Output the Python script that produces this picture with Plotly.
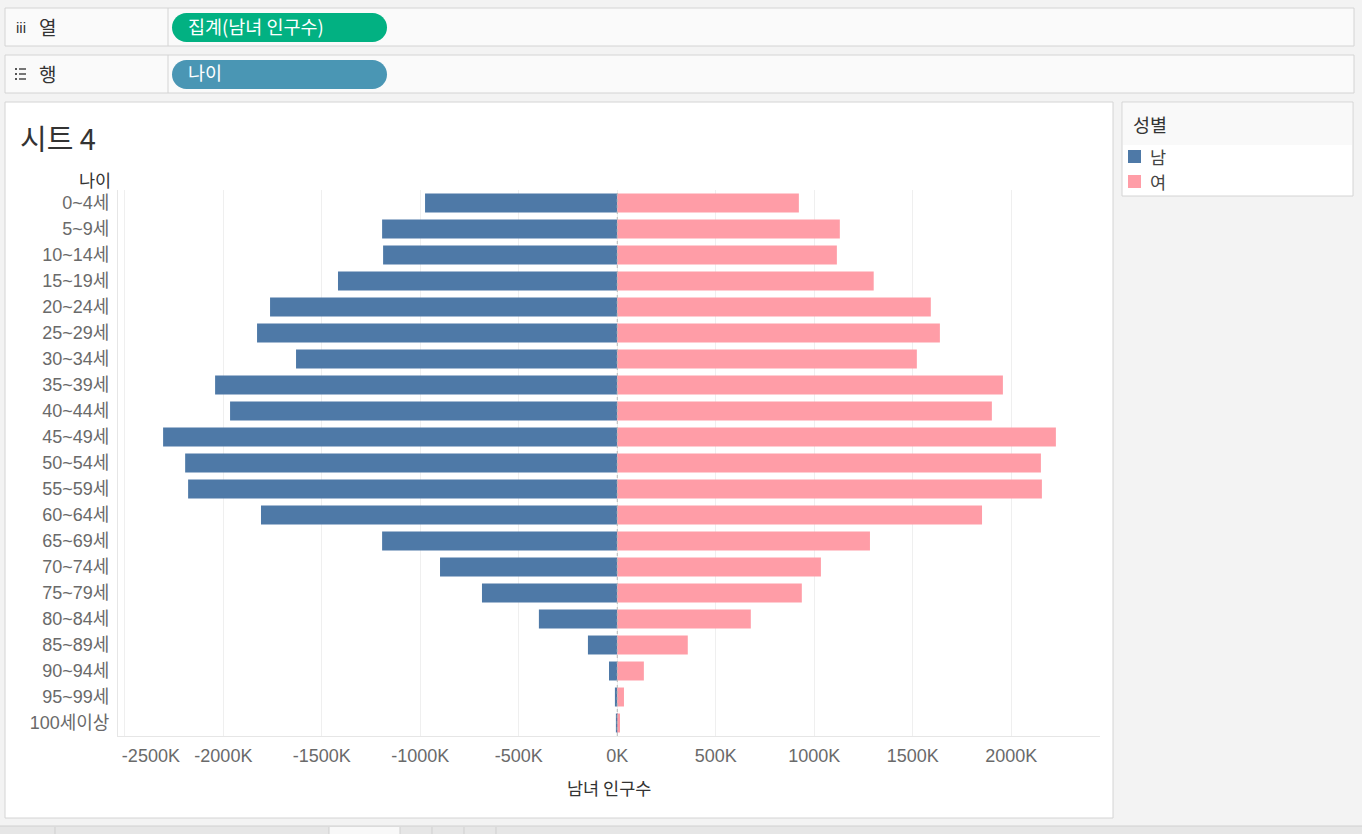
import plotly.graph_objects as go

# ---------------- data ----------------
age_groups = ["0~4세", "5~9세", "10~14세", "15~19세", "20~24세", "25~29세", "30~34세",
              "35~39세", "40~44세", "45~49세", "50~54세", "55~59세", "60~64세", "65~69세",
              "70~74세", "75~79세", "80~84세", "85~89세", "90~94세", "95~99세", "100세이상"]
# population in thousands (K)
male_k = [976, 1194, 1189, 1418, 1763, 1829, 1631, 2042, 1966, 2306, 2194,
          2179, 1809, 1194, 900, 687, 398, 149, 42, 12, 7]
female_k = [922, 1130, 1115, 1302, 1592, 1638, 1521, 1958, 1902, 2227, 2151,
            2156, 1852, 1283, 1034, 937, 678, 358, 135, 34, 14]
tick_vals = [-2500, -2000, -1500, -1000, -500, 0, 500, 1000, 1500, 2000]
tick_text = ["-2500K", "-2000K", "-1500K", "-1000K", "-500K", "0K", "500K", "1000K", "1500K", "2000K"]
x_range = [-2535, 2451]

W, H = 1362, 834
MALE_C = "#4e79a7"
FEMALE_C = "#ff9da7"
KFONT = "Noto Sans CJK KR"
NFONT = "Liberation Sans, Noto Sans CJK KR"


def px(x):
    return x / W


def py(y):
    return 1 - y / H


fig = go.Figure()
fig.add_trace(go.Bar(y=age_groups, x=[-v for v in male_k], name="남", orientation="h",
                     marker=dict(color=MALE_C, line=dict(width=0)), width=0.73,
                     hoverinfo="skip", showlegend=False))
fig.add_trace(go.Bar(y=age_groups, x=female_k, name="여", orientation="h",
                     marker=dict(color=FEMALE_C, line=dict(width=0)), width=0.73,
                     hoverinfo="skip", showlegend=False))

shapes = []
annotations = []


def rect(x0, y0, x1, y1, fill, line="#d4d4d4", lw=1, layer="below"):
    shapes.append(dict(type="rect", xref="paper", yref="paper",
                       x0=px(x0), x1=px(x1), y0=py(y1), y1=py(y0),
                       fillcolor=fill, line=dict(color=line, width=lw), layer=layer))


def line(x0, y0, x1, y1, color="#d4d4d4", lw=1, layer="below"):
    shapes.append(dict(type="line", xref="paper", yref="paper",
                       x0=px(x0), x1=px(x1), y0=py(y0), y1=py(y1),
                       line=dict(color=color, width=lw), layer=layer))


def pill(L, T, R, B, fill):
    r = (B - T) / 2
    k = 0.5523 * r
    mid = (T + B) / 2
    pts = [("M", [(L + r, T)]), ("L", [(R - r, T)]),
           ("C", [(R - r + k, T), (R, mid - k), (R, mid)]),
           ("C", [(R, mid + k), (R - r + k, B), (R - r, B)]),
           ("L", [(L + r, B)]),
           ("C", [(L + r - k, B), (L, mid + k), (L, mid)]),
           ("C", [(L, mid - k), (L + r - k, T), (L + r, T)])]
    path = ""
    for cmd, ps in pts:
        path += cmd + " " + " ".join(f"{px(a):.6f},{py(b):.6f}" for a, b in ps) + " "
    path += "Z"
    shapes.append(dict(type="path", xref="paper", yref="paper", path=path,
                       fillcolor=fill, line=dict(width=0), layer="below"))


def text(x, y, s, size=16, color="#333333", xanchor="left", family=KFONT):
    annotations.append(dict(x=px(x), y=py(y), xref="paper", yref="paper", text=s,
                            showarrow=False, xanchor=xanchor, yanchor="middle",
                            font=dict(family=family, size=size, color=color)))


# shelves
rect(5, 8, 1354, 46, "#fafafa")
line(168, 8, 168, 46)
rect(5, 55, 1354, 93, "#fafafa")
line(168, 55, 168, 93)
pill(172, 13, 387, 42, "#02b182")
pill(172, 60, 387, 89, "#4a96b4")
text(14, 27, "iii", 15, "#333333", family=NFONT)
text(37, 26, "열", 19, "#333333")
# list icon for rows shelf
for yy in (69, 74, 79):
    rect(15, yy - 1, 17, yy + 1, "#555555", line="#555555", lw=0)
    line(19, yy, 26, yy, "#555555", 1.6)
text(37, 73, "행", 19, "#333333")
text(186, 26, "집계(남녀 인구수)", 18.5, "#ffffff")
text(186, 72, "나이", 18.5, "#ffffff")

# sheet pane
rect(5, 102, 1113, 818, "#ffffff")
text(18, 137, "시트 4", 29, "#333333")
text(113, 179, "나이", 17.5, "#333333", xanchor="right")
text(609, 787, "남녀 인구수", 17.5, "#333333", xanchor="center")

# legend
rect(1122, 102, 1353, 196, "#ffffff")
rect(1123, 103, 1352, 145, "#f9f9f9", line="#f9f9f9", lw=0)
text(1131, 124, "성별", 18.5, "#333333")
rect(1128, 150, 1141, 163, MALE_C, line=MALE_C, lw=0)
rect(1128, 175, 1141, 188, FEMALE_C, line=FEMALE_C, lw=0)
text(1148, 157, "남", 17.5, "#444444")
text(1148, 182, "여", 17.5, "#444444")

# bottom tab bar
rect(-1, 826, 1363, 835, "#e6e6e6", line="#d0d0d0")
rect(329, 827, 400, 835, "#f8f8f8", line="#f8f8f8", lw=0)
for xx in (55, 329, 400, 432, 464, 496):
    line(xx, 827, xx, 834, "#cfcfcf")

# dashed zero line
shapes.append(dict(type="line", xref="x", yref="paper", x0=0, x1=0,
                   y0=py(736), y1=py(190), line=dict(color="#b8b8b8", width=1, dash="dot"),
                   layer="above"))

main_ticktext = ["" if v == -2500 else t for v, t in zip(tick_vals, tick_text)]
tfont = dict(family=NFONT, size=18, color="#6a6a6a")

fig.update_layout(
    width=W, height=H,
    margin=dict(l=0, r=0, t=0, b=0),
    paper_bgcolor="#f3f3f3",
    plot_bgcolor="rgba(0,0,0,0)",
    barmode="overlay",
    showlegend=False,
    shapes=shapes,
    annotations=annotations,
    xaxis=dict(domain=[px(118), px(1100)], range=x_range, tickvals=tick_vals,
               ticktext=main_ticktext, showgrid=True, gridcolor="#efefef", gridwidth=1,
               zeroline=False, showline=True, linecolor="#e6e6e6", linewidth=1,
               ticks="outside", ticklen=3, tickcolor="rgba(0,0,0,0)",
               tickfont=tfont, fixedrange=True),
    xaxis2=dict(overlaying="x", anchor="y", side="bottom", range=x_range,
                tickvals=[tick_vals[0]], ticktext=[tick_text[0]], ticklabelshift=26,
                showgrid=False, zeroline=False, showline=False,
                ticks="outside", ticklen=3, tickcolor="rgba(0,0,0,0)",
                tickfont=tfont, fixedrange=True),
    yaxis=dict(domain=[py(736), py(190)], categoryorder="array", categoryarray=age_groups,
               range=[len(age_groups) - 0.5, -0.5], showgrid=False, zeroline=False,
               showline=True, linecolor="#e6e6e6", linewidth=1, ticks="outside", ticklen=4,
               tickcolor="rgba(0,0,0,0)", tickfont=tfont, fixedrange=True),
)
# invisible trace to activate xaxis2
fig.add_trace(go.Scatter(x=[tick_vals[0]], y=[age_groups[0]], xaxis="x2", mode="markers",
                         marker=dict(opacity=0), hoverinfo="skip", showlegend=False))

fig.write_html("out.html", config={"displayModeBar": False},
               post_script="document.body.style.margin='0';document.body.style.overflow='hidden';")
